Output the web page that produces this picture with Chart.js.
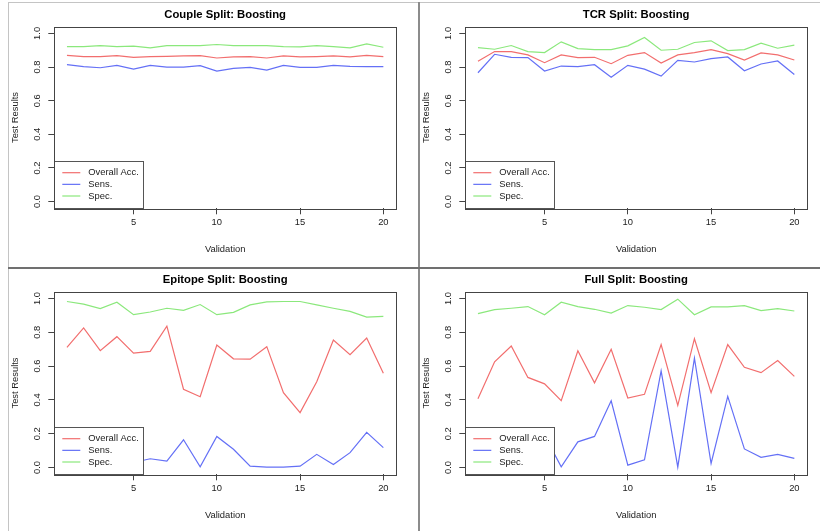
<!DOCTYPE html>
<html>
<head>
<meta charset="utf-8">
<script src="https://cdn.jsdelivr.net/npm/chart.js@4"></script>
<style>
    body { margin: 0; background: #fff; }
    #wrap { position: relative; width: 820px; height: 531px; overflow: hidden; }
    canvas { position: absolute; }
    .ln { position: absolute; }
</style>
</head>
<body>
<div id="wrap">
    <canvas id="c0" width="410" height="265" style="left:0;top:0"></canvas>
    <canvas id="c1" width="410" height="265" style="left:411px;top:0"></canvas>
    <canvas id="c2" width="410" height="266" style="left:0;top:265px"></canvas>
    <canvas id="c3" width="410" height="266" style="left:411px;top:265px"></canvas>
    <div class="ln" style="left:8px;top:2px;width:812px;height:1px;background:#c4c4c4"></div>
    <div class="ln" style="left:8px;top:2px;width:1px;height:529px;background:#c4c4c4"></div>
    <div class="ln" style="left:418px;top:2px;width:2px;height:529px;background:#8c8c8c"></div>
    <div class="ln" style="left:8px;top:267px;width:812px;height:2px;background:#707070"></div>
</div>
<script>
    const validation = [1, 2, 3, 4, 5, 6, 7, 8, 9, 10, 11, 12, 13, 14, 15, 16, 17, 18, 19, 20];
    const xTicks = [5, 10, 15, 20];
    const yTicks = [0, 0.2, 0.4, 0.6, 0.8, 1.0];
    const seriesNames = ['Overall Acc.', 'Sens.', 'Spec.'];
    const seriesColors = ['#f26e6e', '#6470f6', '#8be87c'];
    const panelTitles = ['Couple Split: Boosting', 'TCR Split: Boosting', 'Epitope Split: Boosting', 'Full Split: Boosting'];

    // Couple split
    const coupleAcc = [0.870, 0.862, 0.862, 0.868, 0.858, 0.862, 0.864, 0.866, 0.868, 0.854, 0.860, 0.862, 0.854, 0.866, 0.860, 0.862, 0.866, 0.860, 0.870, 0.862];
    const coupleSens = [0.814, 0.802, 0.796, 0.810, 0.788, 0.810, 0.800, 0.800, 0.808, 0.776, 0.792, 0.798, 0.782, 0.810, 0.798, 0.798, 0.810, 0.804, 0.802, 0.802];
    const coupleSpec = [0.922, 0.922, 0.928, 0.922, 0.924, 0.914, 0.928, 0.928, 0.928, 0.934, 0.928, 0.928, 0.928, 0.922, 0.920, 0.928, 0.922, 0.914, 0.938, 0.918];

    // TCR split
    const tcrAcc = [0.834, 0.892, 0.892, 0.872, 0.826, 0.872, 0.856, 0.858, 0.820, 0.870, 0.886, 0.824, 0.872, 0.886, 0.904, 0.880, 0.842, 0.884, 0.872, 0.842];
    const tcrSens = [0.766, 0.876, 0.858, 0.856, 0.776, 0.806, 0.802, 0.814, 0.740, 0.810, 0.788, 0.746, 0.840, 0.830, 0.850, 0.860, 0.778, 0.818, 0.836, 0.756];
    const tcrSpec = [0.916, 0.906, 0.928, 0.892, 0.886, 0.950, 0.910, 0.904, 0.904, 0.926, 0.976, 0.900, 0.906, 0.946, 0.956, 0.898, 0.904, 0.942, 0.912, 0.930];

    // Epitope split
    const epiAcc = [0.711, 0.826, 0.691, 0.774, 0.677, 0.687, 0.836, 0.463, 0.419, 0.725, 0.643, 0.641, 0.715, 0.443, 0.325, 0.507, 0.754, 0.667, 0.766, 0.557];
    const epiSens = [0.06, 0.12, 0.02, 0.09, 0.03, 0.052, 0.038, 0.164, 0.004, 0.184, 0.108, 0.008, 0.002, 0.002, 0.008, 0.078, 0.018, 0.088, 0.208, 0.118];
    const epiSpec = [0.982, 0.966, 0.940, 0.978, 0.904, 0.920, 0.942, 0.930, 0.964, 0.904, 0.918, 0.962, 0.980, 0.982, 0.982, 0.962, 0.942, 0.924, 0.890, 0.894];

    // Full split
    const fullAcc = [0.407, 0.625, 0.719, 0.533, 0.495, 0.395, 0.691, 0.501, 0.699, 0.411, 0.433, 0.727, 0.367, 0.762, 0.443, 0.727, 0.593, 0.561, 0.633, 0.539];
    const fullSens = [0.05, 0.16, 0.21, 0.12, 0.19, 0.004, 0.152, 0.184, 0.395, 0.014, 0.046, 0.571, 0.002, 0.647, 0.024, 0.421, 0.110, 0.060, 0.078, 0.054];
    const fullSpec = [0.910, 0.934, 0.942, 0.952, 0.904, 0.978, 0.952, 0.936, 0.914, 0.958, 0.948, 0.934, 0.996, 0.904, 0.950, 0.950, 0.958, 0.928, 0.940, 0.926];

    Chart.defaults.font.family = '"Liberation Sans", Arial, sans-serif';
    Chart.defaults.font.size = 9.4;
    Chart.defaults.color = '#222';

    // frame round the plot region, like R's box()
    const boxPlugin = {
        id: 'rbox',
        afterDraw(chart) {
            const { ctx, chartArea: a } = chart;
            ctx.save();
            ctx.strokeStyle = '#444';
            ctx.lineWidth = 1;
            ctx.strokeRect(Math.round(a.left) + 0.5, Math.round(a.top) + 0.5,
                Math.round(a.right - a.left), Math.round(a.bottom - a.top));
            ctx.restore();
        }
    };

    // legend in the bottom-left corner of the plot region
    const legendPlugin = {
        id: 'rlegend',
        afterDatasetsDraw(chart) {
            const { ctx, chartArea: a } = chart;
            const x0 = Math.round(a.left) + 0.5;
            const y1 = Math.round(a.bottom) + 0.5;
            const y0 = Math.round(a.bottom - 47.3) + 0.5;
            ctx.save();
            ctx.fillStyle = '#fff';
            ctx.fillRect(x0, y0, 89, y1 - y0);
            ctx.strokeStyle = '#555';
            ctx.lineWidth = 1;
            ctx.strokeRect(x0, y0, 89, y1 - y0);
            ctx.font = '9.4px "Liberation Sans", Arial, sans-serif';
            ctx.textBaseline = 'middle';
            chart.data.datasets.forEach((ds, i) => {
                const y = a.bottom - 35.6 + i * 11.65;
                ctx.strokeStyle = ds.borderColor;
                ctx.lineWidth = ds.borderWidth;
                ctx.beginPath();
                ctx.moveTo(a.left + 8, y);
                ctx.lineTo(a.left + 26, y);
                ctx.stroke();
                ctx.fillStyle = '#222';
                ctx.fillText(ds.label, a.left + 34, y);
            });
            ctx.restore();
        }
    };

    function drawPanel(id, title, acc, sens, spec) {
        const ctx = document.getElementById(id).getContext('2d');
        return new Chart(ctx, {
            type: 'line',
            data: {
                labels: validation,
                datasets: [acc, sens, spec].map((data, i) => ({
                    label: seriesNames[i],
                    data: data,
                    borderColor: seriesColors[i],
                    borderWidth: 1.2,
                    pointRadius: 0,
                    tension: 0,
                    fill: false
                }))
            },
            options: {
                responsive: false,
                animation: false,
                devicePixelRatio: 1,
                layout: { padding: { left: 0, right: 14, top: 0, bottom: 0 } },
                plugins: { legend: { display: false }, tooltip: { enabled: false } },
                scales: {
                    x: {
                        type: 'linear', position: 'bottom', min: 0.24, max: 20.76,
                        afterBuildTicks: s => { s.ticks = xTicks.map(v => ({ value: v })); },
                        afterFit: s => { s.height = 56.7; },
                        ticks: { autoSkip: false, maxRotation: 0, padding: 2, callback: v => String(v) },
                        grid: { drawOnChartArea: false, tickLength: 6, color: '#444' },
                        border: { display: false },
                        title: { display: true, text: 'Validation', padding: { top: 0, bottom: 10 } }
                    },
                    xTop: {
                        type: 'linear', axis: 'x', position: 'top', min: 0.24, max: 20.76,
                        afterFit: s => { s.height = 26.7; },
                        ticks: { display: false },
                        grid: { display: false },
                        border: { display: false },
                        title: { display: true, text: title, color: '#000', padding: { top: 8.5, bottom: 0 },
                            font: { weight: 'bold', size: 11.3 } }
                    },
                    y: {
                        min: -0.04, max: 1.04,
                        afterBuildTicks: s => { s.ticks = yTicks.map(v => ({ value: v })); },
                        afterFit: s => { s.width = 54.3; },
                        ticks: { autoSkip: false, minRotation: 90, maxRotation: 90, crossAlign: 'center', padding: 4.5,
                            callback: v => v.toFixed(1) },
                        grid: { drawOnChartArea: false, tickLength: 6, color: '#444' },
                        border: { display: false },
                        title: { display: true, text: 'Test Results', padding: { top: 9.4, bottom: 0 } }
                    }
                }
            },
            plugins: [boxPlugin, legendPlugin]
        });
    }

    drawPanel('c0', panelTitles[0], coupleAcc, coupleSens, coupleSpec);
    drawPanel('c1', panelTitles[1], tcrAcc, tcrSens, tcrSpec);
    drawPanel('c2', panelTitles[2], epiAcc, epiSens, epiSpec);
    drawPanel('c3', panelTitles[3], fullAcc, fullSens, fullSpec);
</script>
</body>
</html>
